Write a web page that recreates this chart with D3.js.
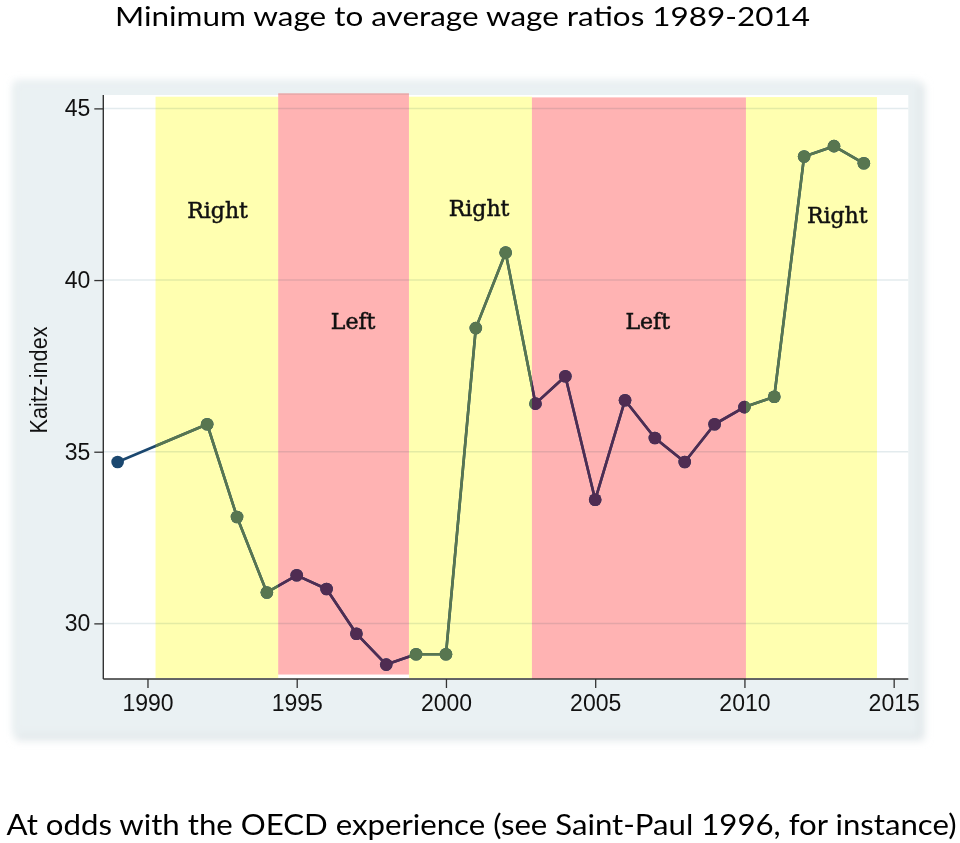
<!DOCTYPE html>
<html>
<head>
<meta charset="utf-8">
<script src="https://cdn.jsdelivr.net/npm/d3@7"></script>
<style>
  html, body { margin: 0; padding: 0; background: #ffffff; }
  svg { display: block; }
</style>
</head>
<body>
<svg id="chart" width="960" height="843"></svg>
<script>
// ---------------- data ----------------
const years = [1989, 1992, 1993, 1994, 1995, 1996, 1997, 1998, 1999, 2000, 2001, 2002,
               2003, 2004, 2005, 2006, 2007, 2008, 2009, 2010, 2011, 2012, 2013, 2014];
const kaitz = [34.7, 35.8, 33.1, 30.9, 31.4, 31.0, 29.7, 28.8, 29.1, 29.1, 38.6, 40.8,
               36.4, 37.2, 33.6, 36.5, 35.4, 34.7, 35.8, 36.3, 36.6, 43.6, 43.9, 43.4];

const bandStart  = [1990.27, 1994.38, 1998.76, 2002.88, 2010.05];
const bandEnd    = [1994.38, 1998.76, 2002.88, 2010.05, 2014.44];
const bandParty  = ["Right", "Left", "Right", "Left", "Right"];
const bandTop    = [45.34, 45.44, 45.34, 45.32, 45.33];
const bandBottom = [28.41, 28.51, 28.41, 28.38, 28.41];

const labelText  = ["Right", "Right", "Right", "Left", "Left"];
const labelYear  = [1992.35, 2001.11, 2013.11, 1996.89, 2006.76];
const labelValue = [41.81, 41.86, 41.65, 38.56, 38.56];

const xTicks = [1990, 1995, 2000, 2005, 2010, 2015];
const yTicks = [30, 35, 40, 45];

const titleText = "Minimum wage to average wage ratios 1989-2014";
const captionText = "At odds with the OECD experience (see Saint-Paul 1996, for instance)";
const yLabel = "Kaitz-index";

// ---------------- layout ----------------
const svg = d3.select("#chart");
const plot = { left: 103.3, right: 908.3, top: 95, bottom: 679 };

const x = d3.scaleLinear().domain([1988.52, 2015.49]).range([plot.left, plot.right]);
const y = d3.scaleLinear().domain([28.38, 45.39]).range([plot.bottom, plot.top]);

const colors = { navy: "#1a476f", Right: "#587650", Left: "#4f2c52" };
const bandFill = { Right: "#ffffb0", Left: "#ffb3b3" };

const defs = svg.append("defs");
const blur = defs.append("filter").attr("id", "soft")
  .attr("x", "-5%").attr("y", "-5%").attr("width", "110%").attr("height", "110%");
blur.append("feGaussianBlur").attr("stdDeviation", 4);

// outer graph region with soft shadow
svg.append("rect").attr("x", 16).attr("y", 84).attr("width", 908).attr("height", 656)
  .attr("fill", "#dfe5e8").attr("filter", "url(#soft)");
svg.append("rect").attr("x", 13).attr("y", 81).attr("width", 906).attr("height", 654)
  .attr("fill", "#eaf1f3").attr("filter", "url(#soft)");

// plot region
svg.append("rect").attr("x", plot.left).attr("y", plot.top)
  .attr("width", plot.right - plot.left).attr("height", plot.bottom - plot.top)
  .attr("fill", "#ffffff");

// gridlines
svg.append("g").selectAll("line").data(yTicks).join("line")
  .attr("x1", plot.left).attr("x2", plot.right)
  .attr("y1", d => y(d)).attr("y2", d => y(d))
  .attr("stroke", "#e3ebee").attr("stroke-width", 1.5);

// bands (multiply so gridlines show through)
svg.append("g").selectAll("rect").data(bandStart).join("rect")
  .attr("x", (d, i) => x(d))
  .attr("width", (d, i) => x(bandEnd[i]) - x(d))
  .attr("y", (d, i) => y(bandTop[i]))
  .attr("height", (d, i) => y(bandBottom[i]) - y(bandTop[i]))
  .attr("fill", (d, i) => bandFill[bandParty[i]])
  .style("mix-blend-mode", "multiply");

// clip paths per band
bandStart.forEach((s, i) => {
  defs.append("clipPath").attr("id", "clip" + i)
    .append("rect").attr("x", x(s)).attr("y", 0)
    .attr("width", x(bandEnd[i]) - x(s)).attr("height", 843);
});

const line = d3.line().x((d, i) => x(years[i])).y(d => y(d));

function drawSeries(g, color) {
  g.append("path").attr("d", line(kaitz))
    .attr("fill", "none").attr("stroke", color).attr("stroke-width", 2.6)
    .attr("stroke-linejoin", "round");
  g.selectAll("circle").data(kaitz).join("circle")
    .attr("cx", (d, i) => x(years[i])).attr("cy", d => y(d))
    .attr("r", 6.3).attr("fill", color);
}

drawSeries(svg.append("g"), colors.navy);
bandStart.forEach((s, i) => {
  drawSeries(svg.append("g").attr("clip-path", "url(#clip" + i + ")"), colors[bandParty[i]]);
});

// band labels
svg.append("g").selectAll("text").data(labelText).join("text")
  .attr("x", (d, i) => x(labelYear[i])).attr("y", (d, i) => y(labelValue[i]))
  .attr("text-anchor", "middle")
  .attr("font-family", "'DejaVu Serif', serif").attr("font-size", 22)
  .attr("fill", "#111").attr("stroke", "#111").attr("stroke-width", 0.5)
  .text(d => d);

// axes
const yAxis = d3.axisLeft(y).tickValues(yTicks).tickSize(9).tickPadding(4).tickFormat(d3.format("d"));
const gy = svg.append("g").attr("transform", `translate(${plot.left},0)`).call(yAxis);
gy.select(".domain").attr("stroke", "#333").attr("stroke-width", 1.4)
  .attr("d", `M-0,${plot.top}V${plot.bottom}`);
gy.selectAll(".tick line").attr("stroke", "#333").attr("stroke-width", 1.3);
gy.selectAll(".tick text").attr("font-family", "'Liberation Sans', Arial, sans-serif")
  .attr("font-size", 23).attr("fill", "#111");

const xAxis = d3.axisBottom(x).tickValues(xTicks).tickSize(9).tickPadding(7).tickFormat(d3.format("d"));
const gx = svg.append("g").attr("transform", `translate(0,${plot.bottom})`).call(xAxis);
gx.select(".domain").attr("stroke", "#333").attr("stroke-width", 1.4)
  .attr("d", `M${plot.left},0H${plot.right}`);
gx.selectAll(".tick line").attr("stroke", "#333").attr("stroke-width", 1.3);
gx.selectAll(".tick text").attr("font-family", "'Liberation Sans', Arial, sans-serif")
  .attr("font-size", 23).attr("fill", "#111");

// y-axis title
svg.append("text")
  .attr("transform", "translate(47,380) rotate(-90)")
  .attr("text-anchor", "middle")
  .attr("font-family", "'Liberation Sans', Arial, sans-serif").attr("font-size", 23)
  .attr("textLength", 107).attr("lengthAdjust", "spacingAndGlyphs")
  .attr("fill", "#111")
  .text(yLabel);

// title & caption
svg.append("text").attr("x", 115).attr("y", 26)
  .attr("textLength", 695).attr("lengthAdjust", "spacingAndGlyphs")
  .attr("font-family", "Lato, 'Open Sans', sans-serif").attr("font-size", 26.5)
  .attr("fill", "#000").text(titleText);

svg.append("text").attr("x", 6.5).attr("y", 835)
  .attr("textLength", 950).attr("lengthAdjust", "spacingAndGlyphs")
  .attr("font-family", "Lato, 'Open Sans', sans-serif").attr("font-size", 28)
  .attr("fill", "#000").text(captionText);
</script>
</body>
</html>
